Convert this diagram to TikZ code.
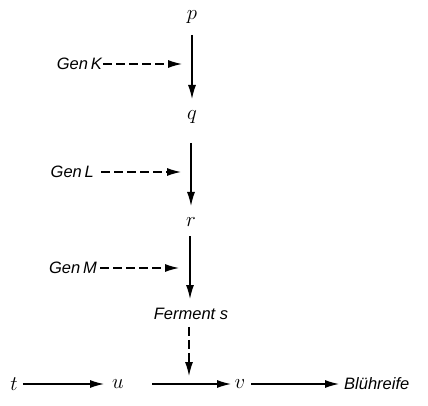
\documentclass[tikz,border=0pt]{standalone}
\usepackage{fontspec}
\setsansfont{Liberation Sans}
\usetikzlibrary{arrows.meta}
\begin{document}
\begin{tikzpicture}[x=1pt,y=-1pt,
  lbl/.style={font=\sffamily\itshape\fontsize{16.5}{19}\selectfont, inner sep=1pt},
  var/.style={font=\fontsize{20}{24}\selectfont, inner sep=1pt},
  arr/.style={line width=1.2pt, -{Latex[length=14pt,width=8pt]}},
  darr/.style={arr, dash pattern=on 9pt off 4pt}]
\useasboundingbox (0,0) rectangle (428,406);
\node[var] (p) at (192,17) {$p$};
\node[var] (q) at (192,117) {$q$};
\node[var] (r) at (191,222) {$r$};
\node[lbl] (f) at (191,314) {Ferment s};
\node[var] (t) at (14,384) {$t$};
\node[var] (u) at (118,384) {$u$};
\node[var] (v) at (240,384) {$v$};
\node[lbl, anchor=west] (b) at (343,384) {Blühreife};
\node[lbl, anchor=east] (gk) at (103,64) {Gen\,K};
\node[lbl, anchor=east] (gl) at (95,172) {Gen\,L};
\node[lbl, anchor=east] (gm) at (98,268) {Gen\,M};
\coordinate (ck) at (182,64);
\coordinate (cl) at (181,172);
\coordinate (cm) at (179,268);
\draw[arr] (192,35) -- (192,99);
\draw[arr] (191,143) -- (191,206);
\draw[arr] (190,236) -- (190,299);
\draw[darr] (gk.east) -- (ck);
\draw[darr] ([xshift=6pt]gl.east) -- (cl);
\draw[darr] ([xshift=2pt]gm.east) -- (cm);
\draw[darr] (f.south) ++(-2,6) -- (189,376);
\draw[arr] (t.east) ++(4,0) -- (104,384);
\draw[arr] (152,384) -- (231,384);
\draw[arr] (v.east) ++(5,0) -- (339,384);
\end{tikzpicture}
\end{document}
